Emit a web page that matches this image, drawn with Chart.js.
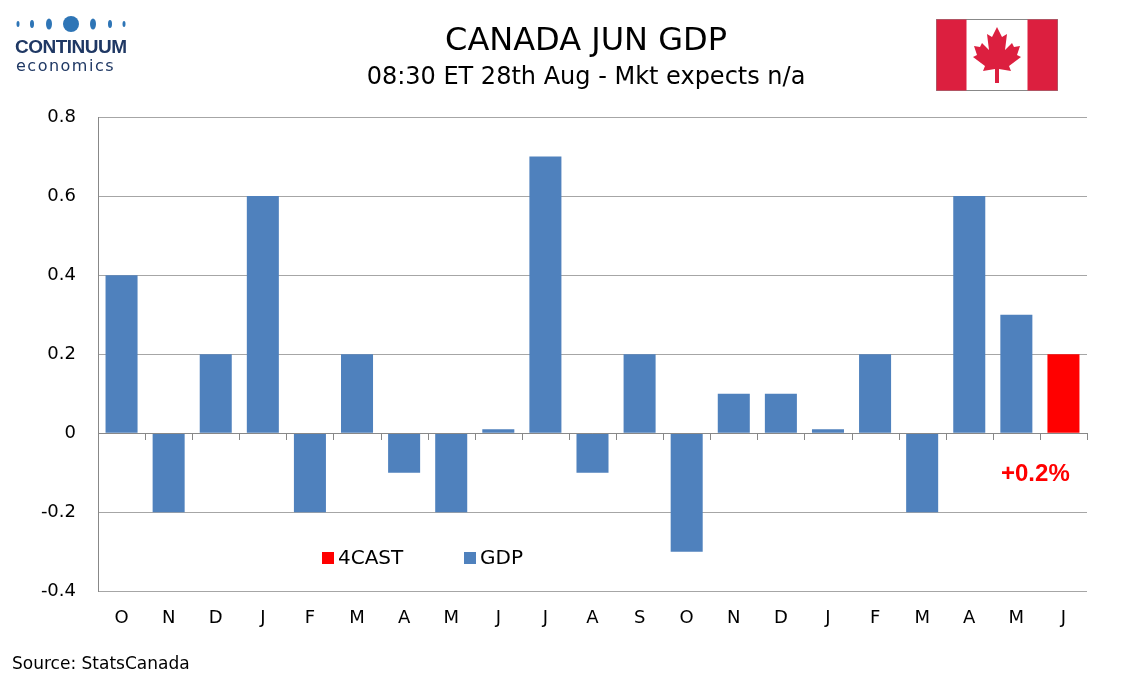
<!DOCTYPE html>
<html><head><meta charset="utf-8">
<script src="https://cdn.jsdelivr.net/npm/chart.js@4"></script>
<style>
body{margin:0;width:1134px;height:680px;background:#fff;font-family:"DejaVu Sans",sans-serif;position:relative;overflow:hidden}
#wrap{position:absolute;left:0;top:0;width:1134px;height:680px}
.t{position:absolute;white-space:nowrap;color:#000}
</style></head><body>
<div id="wrap"><canvas id="c" width="1134" height="680"></canvas></div>
<div class="t" style="left:0;width:1172px;text-align:center;top:20px;font-size:32px">CANADA JUN GDP</div>
<div class="t" style="left:0;width:1172px;text-align:center;top:62px;font-size:24px">08:30 ET 28th Aug - Mkt expects n/a</div>
<div class="t" style="left:12px;top:653px;font-size:17px">Source: StatsCanada</div>
<div class="t" style="left:1001px;top:459px;font-size:24px;font-weight:bold;color:#ff0000;font-family:Arial,'Liberation Sans',sans-serif">+0.2%</div>
<div class="t" style="left:322px;top:545px;font-size:20px"><span style="display:inline-block;width:12px;height:12px;background:#ff0000;margin-right:4px"></span>4CAST</div>
<div class="t" style="left:464px;top:545px;font-size:20px"><span style="display:inline-block;width:12px;height:12px;background:#4f81bd;margin-right:4px"></span>GDP</div>
<svg style="position:absolute;left:14px;top:14px" width="120" height="20">
<g fill="#2e75b6"><ellipse cx="4" cy="10" rx="1.5" ry="3"/><ellipse cx="18" cy="10" rx="2" ry="4"/><ellipse cx="35" cy="10" rx="3" ry="5.5"/><circle cx="57" cy="10" r="8"/><ellipse cx="79" cy="10" rx="3" ry="5.5"/><ellipse cx="96" cy="10" rx="2" ry="4"/><ellipse cx="110" cy="10" rx="1.5" ry="3"/></g></svg>
<div class="t" style="left:15px;top:36px;font-size:19px;font-weight:bold;color:#1f3864;font-family:Arial,'Liberation Sans',sans-serif;letter-spacing:-0.5px">CONTINUUM</div>
<div class="t" style="left:16px;top:56px;font-size:16px;color:#1f3864;letter-spacing:1.5px">economics</div>
<svg style="position:absolute;left:936px;top:19px" width="122" height="72" viewBox="0 0 122 72">
<rect x="0.5" y="0.5" width="121" height="71" fill="#fff" stroke="#888"/>
<rect x="0.5" y="0.5" width="30" height="71" fill="#dc1f3f"/>
<rect x="91.5" y="0.5" width="30" height="71" fill="#dc1f3f"/>
<path fill="#dc1f3f" d="M61 8 L56 18 L51 15 L53 31 L46 24 L44 28 L38 27 L41 36 L37 38 L49 47 L47 52 L59 50 L59 64 L63 64 L63 50 L75 52 L73 47 L85 38 L81 36 L84 27 L78 28 L76 24 L69 31 L71 15 L66 18 Z"/>
</svg>
<script>
const categories=["O","N","D","J","F","M","A","M","J","J","A","S","O","N","D","J","F","M","A","M","J"];
const gdp=[0.4,-0.2,0.2,0.6,-0.2,0.2,-0.1,-0.2,0.01,0.7,-0.1,0.2,-0.3,0.1,0.1,0.01,0.2,-0.2,0.6,0.3,null];
const forecast=[null,null,null,null,null,null,null,null,null,null,null,null,null,null,null,null,null,null,null,null,0.2];
const yTicks=[-0.4,-0.2,0,0.2,0.4,0.6,0.8];
const zeroTicks={id:'zt',afterDatasetsDraw(ch){const {ctx,chartArea:a,scales:{x,y}}=ch;const y0=Math.round(y.getPixelForValue(0));
ctx.save();ctx.strokeStyle='#888';ctx.lineWidth=1;ctx.beginPath();ctx.moveTo(a.left,y0+0.5);ctx.lineTo(a.right,y0+0.5);
const w=(a.right-a.left)/categories.length;for(let i=0;i<=categories.length;i++){const px=Math.round(a.left+i*w)+0.5;ctx.moveTo(px,y0);ctx.lineTo(px,y0+7);}
ctx.stroke();ctx.restore();}};
new Chart(document.getElementById('c'),{type:'bar',
data:{labels:categories,datasets:[{label:'GDP',data:gdp,backgroundColor:'#4f81bd'},{label:'4CAST',data:forecast,backgroundColor:'#ff0000'}]},
options:{responsive:false,animation:false,devicePixelRatio:1,
layout:{padding:{left:0,right:47,top:117,bottom:43}},
plugins:{legend:{display:false},tooltip:{enabled:false}},
datasets:{bar:{barPercentage:0.68,categoryPercentage:1}},
scales:{x:{stacked:true,grid:{display:false},border:{display:false},ticks:{color:'#000',font:{size:18,family:'DejaVu Sans'},padding:8}},
y:{stacked:true,min:-0.4,max:0.8,afterBuildTicks(s){s.ticks=yTicks.map(v=>({value:v}));},afterFit(s){s.width=98;},
grid:{color:'#a6a6a6',drawTicks:false},border:{display:true,color:'#888'},
ticks:{color:'#000',font:{size:18,family:'DejaVu Sans'},padding:22,callback:v=>String(Math.round(v*10)/10)}}}},
plugins:[zeroTicks]});
</script>
</body></html>
